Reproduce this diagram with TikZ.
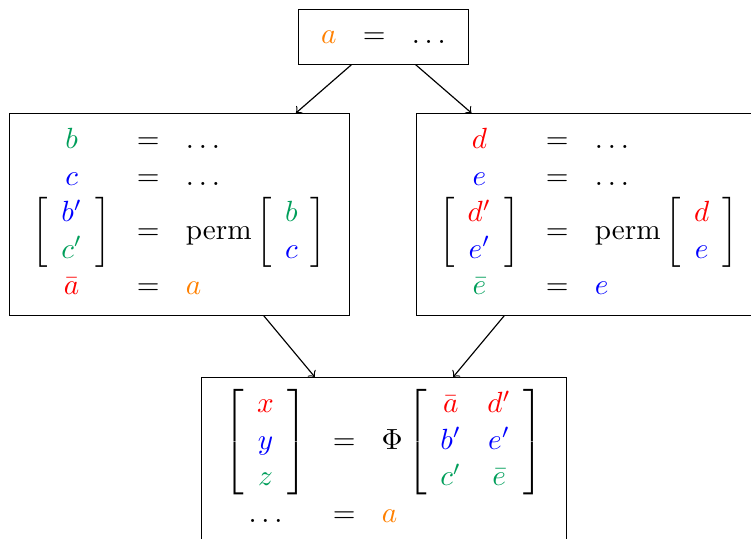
\documentclass[tikz,border=0pt]{standalone}
\usepackage{amsmath}
\definecolor{hueOrange}{RGB}{255,128,0}
\definecolor{hueGreen}{RGB}{0,158,90}
\definecolor{hueBlue}{RGB}{0,0,255}
\definecolor{hueRed}{RGB}{255,0,0}
\newcommand{\inO}[1]{{\color{hueOrange}#1}}
\newcommand{\inG}[1]{{\color{hueGreen}#1}}
\newcommand{\inB}[1]{{\color{hueBlue}#1}}
\newcommand{\inR}[1]{{\color{hueRed}#1}}
\setlength{\arraycolsep}{4.5pt}
\begin{document}
\begin{tikzpicture}[x=0.3425pt, y=-0.3425pt,
  box/.style={draw, line width=0.4pt, inner sep=3.333pt},
  tall/.style={box, execute at begin node={\renewcommand{\arraystretch}{1.04}}},
  link/.style={->, line width=0.4pt}]
\useasboundingbox (0,0) rectangle (751,538);

% source assignment
\node[box, anchor=north] (top) at (383.5,9)
  {$\begin{array}{ccl} \inO{a} & = & \ldots \end{array}$};

% left branch
\node[tall, anchor=north] (left) at (179.5,113)
  {$\begin{array}{ccl}
     \inG{b} & = & \ldots \\
     \inB{c} & = & \ldots \\
     \left[\begin{array}{c} \inB{b'} \\ \inG{c'} \end{array}\right] & = &
       \operatorname{perm}\left[\begin{array}{c} \inG{b} \\ \inB{c} \end{array}\right] \\
     \inR{\bar{a}} & = & \inO{a}
   \end{array}$};

% right branch
\node[tall, anchor=north] (right) at (588.5,113)
  {$\begin{array}{ccl}
     \inR{d} & = & \ldots \\
     \inB{e} & = & \ldots \\
     \left[\begin{array}{c} \inR{d'} \\ \inB{e'} \end{array}\right] & = &
       \operatorname{perm}\left[\begin{array}{c} \inR{d} \\ \inB{e} \end{array}\right] \\
     \inG{\bar{e}} & = & \inB{e}
   \end{array}$};

% merge
\node[tall, anchor=north] (merge) at (384,377)
  {$\begin{array}{ccl}
     \left[\begin{array}{c} \inR{x} \\ \inB{y} \\ \inG{z} \end{array}\right] & = &
       \Phi\left[\begin{array}{cc}
         \inR{\bar{a}} & \inR{d'} \\
         \inB{b'} & \inB{e'} \\
         \inG{c'} & \inG{\bar{e}}
       \end{array}\right] \\
     \ldots & = & \inO{a}
   \end{array}$};

\draw[link] (top) -- (left);
\draw[link] (top) -- (right);
\draw[link] (left) -- (merge);
\draw[link] (right) -- (merge);
\end{tikzpicture}
\end{document}
